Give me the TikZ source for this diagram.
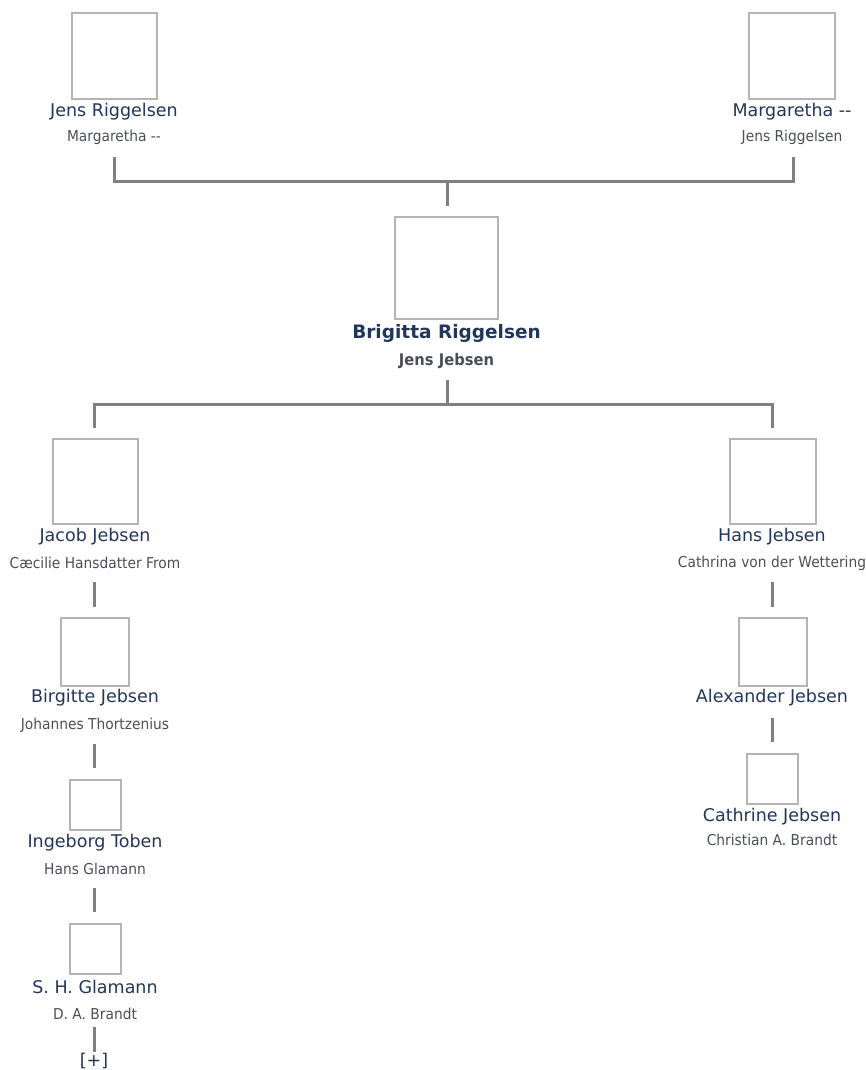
\documentclass[tikz,border=0pt]{standalone}
\usepackage{fontspec}
\setmainfont{DejaVu Sans}
\newfontfamily\namefont{DejaVu Sans}
\newfontfamily\spousefont[FakeStretch=0.92]{DejaVu Sans}
\definecolor{namecol}{HTML}{21365A}
\definecolor{spousecol}{HTML}{4A4F57}
\definecolor{boxcol}{HTML}{B4B4B4}
\definecolor{linecol}{HTML}{808080}
\tikzset{
  photo/.style={draw=boxcol, line width=1.5pt, fill=white, inner sep=0pt},
  pname/.style={text=namecol, font=\namefont\fontsize{17.5}{19}\selectfont, inner sep=0pt},
  pnamebold/.style={text=namecol, font=\namefont\bfseries\fontsize{18.5}{20}\selectfont, inner sep=0pt},
  spouse/.style={text=spousecol, font=\spousefont\fontsize{15}{17}\selectfont, inner sep=0pt},
  spousebold/.style={text=spousecol, font=\spousefont\bfseries\fontsize{16}{18}\selectfont, inner sep=0pt},
  conn/.style={draw=linecol, line width=3pt},
}
\begin{document}
\begin{tikzpicture}[x=1pt,y=-1pt]
\useasboundingbox (0,0) rectangle (866,1070);
% boxes
\node[photo, minimum width=85pt, minimum height=86pt] (p1) at (114.5,56) {};
\node[photo, minimum width=86pt, minimum height=86pt] (p2) at (792,56) {};
\node[photo, minimum width=103pt, minimum height=102pt] (c) at (446.5,268) {};
\node[photo, minimum width=85pt, minimum height=85pt] (j) at (95.5,481.5) {};
\node[photo, minimum width=86pt, minimum height=85pt] (h) at (773,481.5) {};
\node[photo, minimum width=68pt, minimum height=68pt] (b) at (95,652) {};
\node[photo, minimum width=68pt, minimum height=68pt] (a) at (773,652) {};
\node[photo, minimum width=51pt, minimum height=50pt] (i) at (95.5,805) {};
\node[photo, minimum width=51pt, minimum height=50pt] (s) at (95.5,949) {};
\node[photo, minimum width=51pt, minimum height=50pt] (ct) at (772.5,779) {};
% names
\node[pname] (p1n) at (114,112) {Jens Riggelsen};
\node[spouse] (p1s) at (114,137) {Margaretha --};
\node[pname] (p2n) at (792,112) {Margaretha --};
\node[spouse] (p2s) at (792,137) {Jens Riggelsen};
\node[pnamebold] (cn) at (446.5,333) {Brigitta Riggelsen};
\node[spousebold] (cs) at (446.5,361) {Jens Jebsen};
\node[pname] (jn) at (95,537) {Jacob Jebsen};
\node[spouse] (js) at (95,563) {Cæcilie Hansdatter From};
\node[pname] (hn) at (772,537) {Hans Jebsen};
\node[spouse] (hs) at (772,563) {Cathrina von der Wettering};
\node[pname] (bn) at (95,698) {Birgitte Jebsen};
\node[spouse] (bs) at (95,725) {Johannes Thortzenius};
\node[pname] (an) at (772,698) {Alexander Jebsen};
\node[pname] (in) at (95,843) {Ingeborg Toben};
\node[spouse] (is) at (95,869) {Hans Glamann};
\node[pname] (sn) at (95,987) {S. H. Glamann};
\node[spouse] (ss) at (95,1014) {D. A. Brandt};
\node[pname] (ctn) at (772,817) {Cathrine Jebsen};
\node[spouse] (cts) at (772,840) {Christian A. Brandt};
\node[pname] (more) at (94,1061) {[+]};
% connector ends
\coordinate (t1) at (114,157);
\coordinate (t1b) at (114,181);
\coordinate (t2) at (793,157);
\coordinate (t2b) at (793,181);
\coordinate (tm) at (447,181);
\coordinate (tmb) at (447,206);
\coordinate (m0) at (447,380);
\coordinate (m1) at (447,404);
\coordinate (ml) at (94,404);
\coordinate (mlb) at (94,428);
\coordinate (mr) at (772,404);
\coordinate (mrb) at (772,428);
\coordinate (l1) at (94,582);
\coordinate (l1b) at (94,607);
\coordinate (l2) at (94,744);
\coordinate (l2b) at (94,768);
\coordinate (l3) at (94,888);
\coordinate (l3b) at (94,912);
\coordinate (l4) at (94,1027);
\coordinate (l4b) at (94,1052);
\coordinate (r1) at (772,582);
\coordinate (r1b) at (772,607);
\coordinate (r2) at (772,718);
\coordinate (r2b) at (772,742);
% connectors
\draw[conn] (t1) -- (t1b) -- (t2b) -- (t2);
\draw[conn] (tm) -- (tmb);
\draw[conn] (m0) -- (m1);
\draw[conn] (mlb) -- (ml) -- (mr) -- (mrb);
\draw[conn] (l1) -- (l1b);
\draw[conn] (l2) -- (l2b);
\draw[conn] (l3) -- (l3b);
\draw[conn] (l4) -- (l4b);
\draw[conn] (r1) -- (r1b);
\draw[conn] (r2) -- (r2b);
\end{tikzpicture}
\end{document}
